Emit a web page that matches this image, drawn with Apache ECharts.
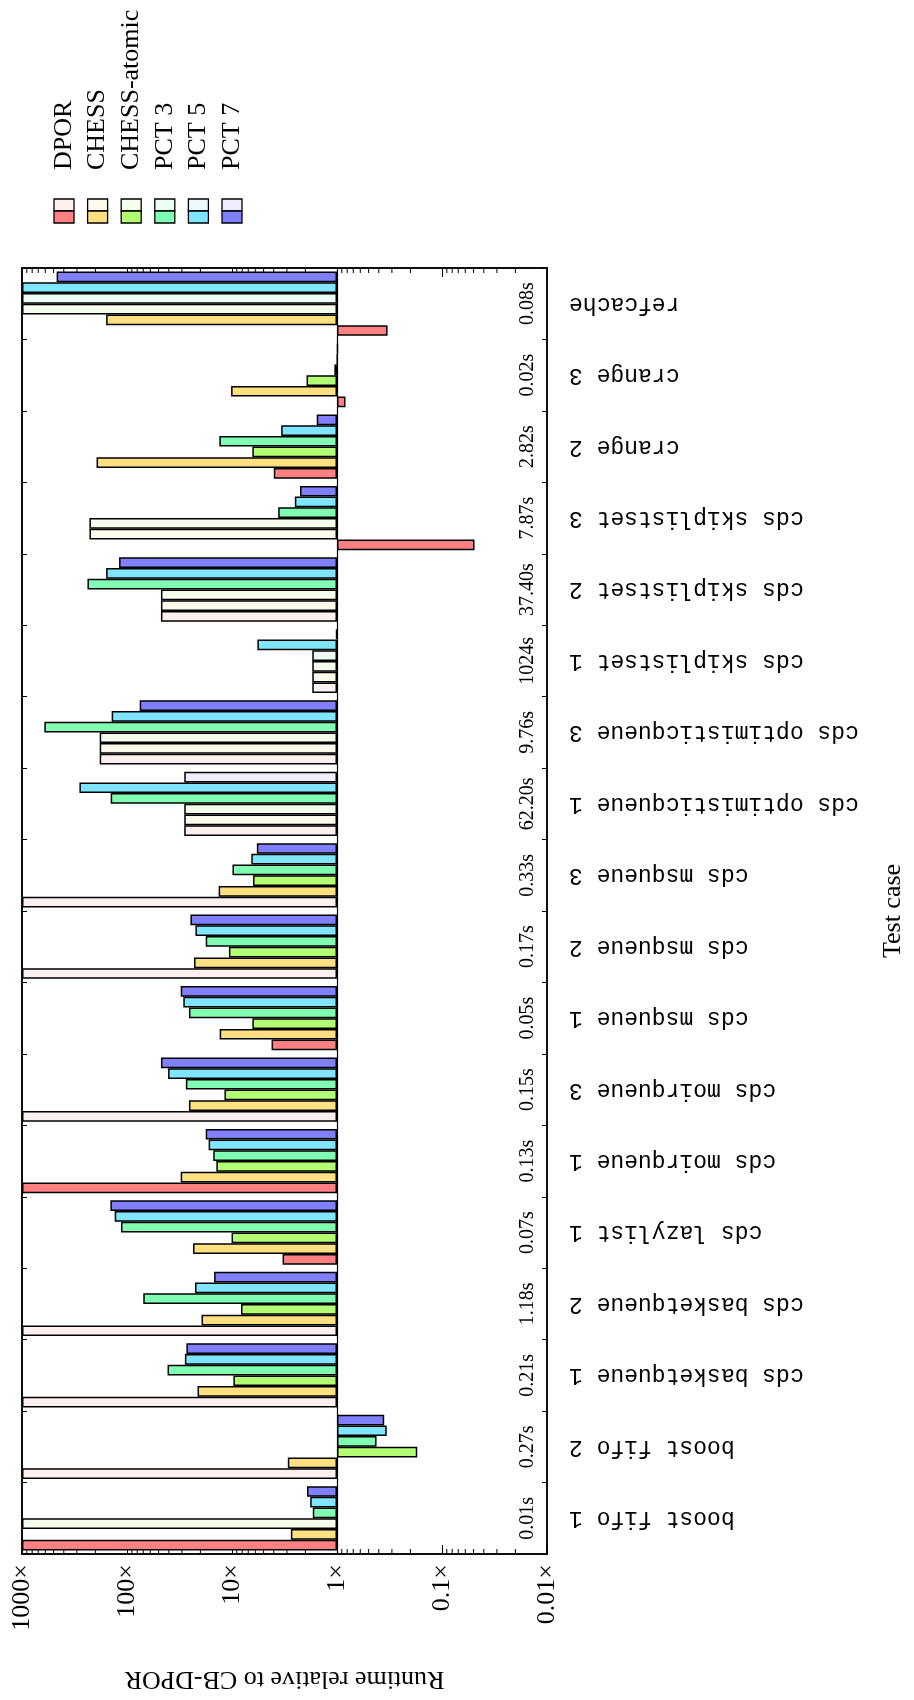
<!DOCTYPE html>
<html>
<head>
<meta charset="utf-8">
<script src="https://cdn.jsdelivr.net/npm/echarts@6/dist/echarts.min.js"></script>
<style>
  html, body { margin: 0; padding: 0; background: #fff; }
  #chart { width: 914px; height: 1700px; }
</style>
</head>
<body>
<div id="chart"></div>
<script>
// Test cases, bottom to top, with the absolute CB-DPOR runtime of each
const categories = [
  'boost fifo 1', 'boost fifo 2', 'cds basketqueue 1', 'cds basketqueue 2',
  'cds lazylist 1', 'cds moirqueue 1', 'cds moirqueue 3', 'cds msqueue 1',
  'cds msqueue 2', 'cds msqueue 3', 'cds optimisticqueue 1', 'cds optimisticqueue 3',
  'cds skiplistset 1', 'cds skiplistset 2', 'cds skiplistset 3', 'crange 2',
  'crange 3', 'refcache'
];
const runtimes = [
  '0.01s', '0.27s', '0.21s', '1.18s', '0.07s', '0.13s', '0.15s', '0.05s', '0.17s',
  '0.33s', '62.20s', '9.76s', '1024s', '37.40s', '7.87s', '2.82s', '0.02s', '0.08s'
];
const seriesNames = ['DPOR', 'CHESS', 'CHESS-atomic', 'PCT 3', 'PCT 5', 'PCT 7'];
const tickLabels = ['0.01×', '0.1×', '1×', '10×', '100×', '1000×'];

// Runtime relative to CB-DPOR, per tool
const dpor        = [1000, 1000, 1000, 1000, 3.3, 1000, 1000, 4.2, 1000, 1000, 28.5, 182, 1.72, 47.5, 0.049, 4.0, 0.83, 0.33];
const chess       = [2.75, 2.94, 21.3, 19.5, 23.5, 30.8, 25.7, 13.1, 23, 13.4, 28.5, 182, 1.72, 47.5, 228, 195, 10.2, 158];
const chessAtomic = [1000, 0.172, 9.7, 8.2, 10.1, 14.1, 11.8, 6.4, 10.7, 6.3, 28.5, 182, 1.72, 47.5, 228, 6.4, 1.95, 1000];
const pct3        = [1.7, 0.42, 41.1, 70, 114, 15.1, 27.5, 25.7, 17.8, 9.9, 143, 613, 1.72, 238, 3.63, 13.2, 1.06, 1000];
const pct5        = [1.8, 0.336, 28.1, 22.5, 131, 16.7, 40.6, 29.1, 22.3, 6.55, 284, 140, 5.73, 158, 2.52, 3.4, 0.99, 1000];
const pct7        = [1.93, 0.355, 27.2, 14.8, 144, 17.8, 47.5, 30.8, 24.9, 5.8, 28.5, 75.7, 1.02, 119, 2.25, 1.56, 0.98, 468];

// 1 = run drawn in the pale shade (bug not found within the limit)
const dporPale        = [0, 1, 1, 1, 0, 0, 1, 0, 1, 1, 1, 1, 1, 1, 0, 0, 0, 0];
const chessPale       = [0, 0, 0, 0, 0, 0, 0, 0, 0, 0, 1, 1, 1, 1, 1, 0, 0, 0];
const chessAtomicPale = [1, 0, 0, 0, 0, 0, 0, 0, 0, 0, 1, 1, 1, 1, 1, 0, 0, 1];
const pct3Pale        = [0, 0, 0, 0, 0, 0, 0, 0, 0, 0, 0, 0, 1, 0, 0, 0, 0, 1];
const pct5Pale        = [0, 0, 0, 0, 0, 0, 0, 0, 0, 0, 0, 0, 0, 0, 0, 0, 0, 0];
const pct7Pale        = [0, 0, 0, 0, 0, 0, 0, 0, 0, 0, 1, 0, 0, 0, 0, 0, 0, 0];

const solidColors = ['#ff8080', '#ffe080', '#b3ff73', '#80ffb3', '#80e6ff', '#8080ff'];
const paleColors  = ['#fff0f0', '#fffbec', '#f4ffec', '#ecfff4', '#ecfaff', '#eeeeff'];

const values = [dpor, chess, chessAtomic, pct3, pct5, pct7];
const pale = [dporPale, chessPale, chessAtomicPale, pct3Pale, pct5Pale, pct7Pale];

const SERIF = '"Liberation Serif", "Times New Roman", serif';
const MONO = '"Liberation Mono", "DejaVu Sans Mono", monospace';

// log minor ticks: 2..9 within each decade
const minorTicks = [];
for (let e = -2; e < 3; e++) {
  for (let m = 2; m <= 9; m++) minorTicks.push(m * Math.pow(10, e));
}

const chart = echarts.init(document.getElementById('chart'), null, { renderer: 'canvas' });

// listed top-down inside each group so DPOR ends up at the bottom
const barSeries = values.map((vals, i) => ({
  name: seriesNames[i],
  type: 'bar',
  xAxisIndex: 0,
  yAxisIndex: 0,
  barGap: 0,
  barCategoryGap: '10%',
  itemStyle: { borderColor: '#000', borderWidth: 1.5 },
  data: vals.map((v, j) => ({
    value: v,
    itemStyle: { color: pale[i][j] ? paleColors[i] : solidColors[i] }
  })),
  z: 3
})).reverse();

// vertical reference line at 1x
barSeries[0].markLine = {
  silent: true,
  symbol: 'none',
  label: { show: false },
  lineStyle: { color: '#000', width: 1.2, type: 'solid' },
  data: [{ xAxis: 1 }]
};

const minorTickSeries = {
  type: 'custom',
  xAxisIndex: 0,
  yAxisIndex: 0,
  silent: true,
  z: 6,
  data: minorTicks.map(v => [v, 0]),
  encode: { x: 0, y: 1 },
  renderItem(params, api) {
    const x = api.coord([api.value(0), 0])[0];
    const cs = params.coordSys;
    const st = { stroke: '#000', lineWidth: 1 };
    return {
      type: 'group',
      children: [
        { type: 'line', shape: { x1: x, y1: cs.y, x2: x, y2: cs.y + 5 }, style: st },
        { type: 'line', shape: { x1: x, y1: cs.y + cs.height, x2: x, y2: cs.y + cs.height - 5 }, style: st }
      ]
    };
  }
};

const runtimeSeries = {
  type: 'custom',
  xAxisIndex: 0,
  yAxisIndex: 0,
  silent: true,
  z: 6,
  data: runtimes.map((t, j) => [1, j]),
  encode: { x: 0, y: 1 },
  renderItem(params, api) {
    const cs = params.coordSys;
    const y = api.coord([1, api.value(1)])[1];
    return {
      type: 'text',
      x: cs.x + cs.width - 19,
      y: y,
      rotation: Math.PI / 2,
      style: {
        text: runtimes[params.dataIndex],
        fontFamily: SERIF,
        fontSize: 20,
        fill: '#000',
        align: 'center',
        verticalAlign: 'middle',
        textAlign: 'center',
        textVerticalAlign: 'middle'
      }
    };
  }
};

// legend: label above a pale / solid swatch pair
const legendGraphics = [];
seriesNames.forEach((name, i) => {
  const cx = 64 + i * 33.6;
  legendGraphics.push({
    type: 'text', x: cx, y: 170, rotation: Math.PI / 2,
    style: {
      text: name, fontFamily: SERIF, fontSize: 26, fill: '#000',
      align: 'left', verticalAlign: 'middle', textAlign: 'left', textVerticalAlign: 'middle'
    }
  });
  legendGraphics.push({
    type: 'rect', shape: { x: cx - 10, y: 199, width: 20, height: 12 },
    style: { fill: paleColors[i], stroke: '#000', lineWidth: 1.3 }
  });
  legendGraphics.push({
    type: 'rect', shape: { x: cx - 10, y: 211, width: 20, height: 12 },
    style: { fill: solidColors[i], stroke: '#000', lineWidth: 1.3 }
  });
});

const valueAxisBase = {
  type: 'log',
  logBase: 10,
  min: 0.01,
  max: 1000,
  inverse: true,
  splitLine: { show: false },
  axisLine: { show: true, onZero: false, lineStyle: { color: '#000', width: 1.5 } },
  axisTick: { show: true, inside: true, length: 9, lineStyle: { color: '#000', width: 1 } }
};

chart.setOption({
  backgroundColor: '#fff',
  animation: false,
  grid: {
    left: 22, right: 361, top: 268, bottom: 146,
    containLabel: false,
    show: true, borderColor: '#000', borderWidth: 1.5, backgroundColor: 'transparent'
  },
  xAxis: [
    Object.assign({}, valueAxisBase, {
      position: 'bottom',
      axisLabel: {
        rotate: 90, margin: 10, fontFamily: SERIF, fontSize: 26, color: '#000',
        formatter: v => tickLabels[Math.round(Math.log10(v)) + 2]
      },
      name: 'Runtime relative to CB-DPOR',
      nameLocation: 'middle',
      nameRotate: 180,
      nameGap: 112,
      nameTextStyle: { fontFamily: SERIF, fontSize: 26, color: '#000' }
    }),
    Object.assign({}, valueAxisBase, {
      position: 'top',
      axisLabel: { show: false }
    })
  ],
  yAxis: [
    {
      type: 'category',
      data: categories,
      position: 'right',
      axisLine: { show: true, lineStyle: { color: '#000', width: 1.5 } },
      axisTick: { show: true, inside: true, length: 5, lineStyle: { color: '#000' } },
      axisLabel: { rotate: 180, margin: 22, interval: 0, fontFamily: MONO, fontSize: 23, color: '#000' },
      name: 'Test case',
      nameLocation: 'middle',
      nameRotate: 90,
      nameGap: 333,
      nameTextStyle: { fontFamily: SERIF, fontSize: 26, color: '#000' }
    },
    {
      type: 'category',
      data: categories,
      position: 'left',
      axisLine: { show: true, lineStyle: { color: '#000', width: 1.5 } },
      axisTick: { show: true, inside: true, length: 5, lineStyle: { color: '#000' } },
      axisLabel: { show: false }
    }
  ],
  series: barSeries.concat([minorTickSeries, runtimeSeries]),
  graphic: legendGraphics
});
</script>
</body>
</html>
